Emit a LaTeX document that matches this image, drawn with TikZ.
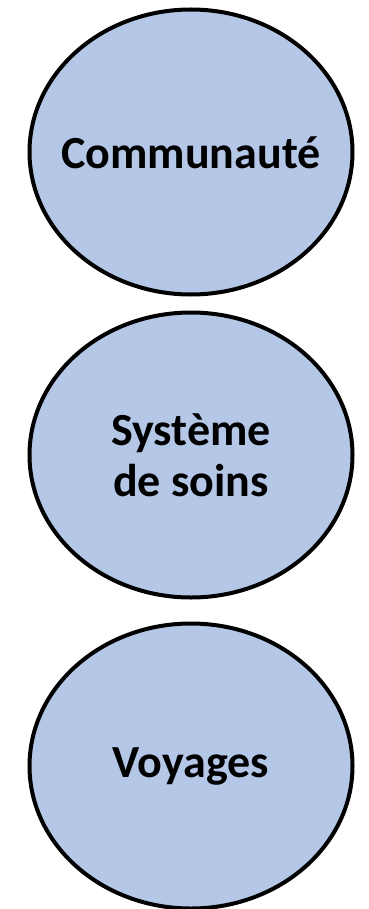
\documentclass[tikz,border=0pt]{standalone}
\usepackage{fontspec}
\setmainfont{Carlito}
\usetikzlibrary{shapes.geometric}
\definecolor{bulle}{RGB}{180,199,231}
\tikzset{>=latex}
\tikzset{
  cercle/.style={ellipse,draw=black,line width=4pt,fill=bulle,
    minimum width=323pt,minimum height=285pt,inner sep=0pt},
  titre/.style={align=center,inner sep=0pt,
    font=\fontsize{46}{51}\selectfont\bfseries},
}

\begin{document}
\begin{tikzpicture}[x=1pt,y=1pt]
  % Frame
  \useasboundingbox (0,0) rectangle (368,-909);

  % Bubbles
  \node[cercle] (communaute) at (191,-152) {};
  \node[cercle] (soins) at (191,-455) {};
  \node[cercle] (voyages) at (191,-766) {};

  % Labels
  \node[titre] (t1) at ([yshift=-1pt]communaute) {Communauté};
  \node[titre] (t2) at ([yshift=0pt]soins) {Système\\de soins};
  \node[titre] (t3) at (voyages) {Voyages};

\end{tikzpicture}
\end{document}
